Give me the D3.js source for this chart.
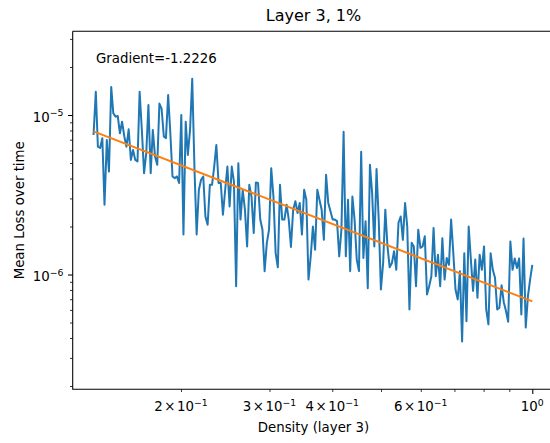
<!DOCTYPE html>
<html>
<head>
<meta charset="utf-8">
<script src="https://cdn.jsdelivr.net/npm/d3@7"></script>
<style>
body { margin: 0; background: #fff; }
text { font-family: "DejaVu Sans", sans-serif; fill: #000; }
.tick line { stroke: #000; }
</style>
</head>
<body>
<script>
// density of layer 3 after each pruning step (1% per step)
var density = [
    0.1340,0.1354,0.1367,0.1381,0.1395,0.1409,0.1424,0.1438,0.1453,0.1467,
    0.1482,0.1497,0.1512,0.1527,0.1543,0.1558,0.1574,0.1590,0.1606,0.1622,
    0.1639,0.1655,0.1672,0.1689,0.1706,0.1723,0.1741,0.1758,0.1776,0.1794,
    0.1812,0.1830,0.1849,0.1867,0.1886,0.1905,0.1924,0.1944,0.1963,0.1983,
    0.2003,0.2023,0.2044,0.2064,0.2085,0.2106,0.2128,0.2149,0.2171,0.2193,
    0.2215,0.2237,0.2260,0.2283,0.2306,0.2329,0.2352,0.2376,0.2400,0.2424,
    0.2449,0.2474,0.2499,0.2524,0.2549,0.2575,0.2601,0.2627,0.2654,0.2681,
    0.2708,0.2735,0.2763,0.2791,0.2819,0.2847,0.2876,0.2905,0.2934,0.2964,
    0.2994,0.3024,0.3055,0.3086,0.3117,0.3148,0.3180,0.3212,0.3245,0.3277,
    0.3310,0.3344,0.3378,0.3412,0.3446,0.3481,0.3516,0.3552,0.3587,0.3624,
    0.3660,0.3697,0.3735,0.3772,0.3810,0.3849,0.3888,0.3927,0.3967,0.4007,
    0.4047,0.4088,0.4129,0.4171,0.4213,0.4256,0.4299,0.4342,0.4386,0.4430,
    0.4475,0.4520,0.4566,0.4612,0.4659,0.4706,0.4753,0.4801,0.4850,0.4899,
    0.4948,0.4998,0.5049,0.5100,0.5151,0.5203,0.5256,0.5309,0.5363,0.5417,
    0.5472,0.5527,0.5583,0.5639,0.5696,0.5754,0.5812,0.5870,0.5930,0.5990,
    0.6050,0.6111,0.6173,0.6235,0.6298,0.6362,0.6426,0.6491,0.6557,0.6623,
    0.6690,0.6757,0.6826,0.6894,0.6964,0.7034,0.7106,0.7177,0.7250,0.7323,
    0.7397,0.7472,0.7547,0.7623,0.7700,0.7778,0.7857,0.7936,0.8016,0.8097,
    0.8179,0.8262,0.8345,0.8429,0.8515,0.8601,0.8687,0.8775,0.8864,0.8953,
    0.9044,0.9135,0.9227,0.9321,0.9415,0.9510,0.9606,0.9703,0.9801,0.9900,
    1.0
];

// mean loss over time at each density
var meanLoss = [
    7.50e-6,1.40e-5,6.33e-6,6.21e-6,7.16e-6,2.74e-6,6.98e-6,4.42e-6,1.50e-5,1.025e-5,
    9.77e-6,9.86e-6,7.69e-6,9.08e-6,7.33e-6,6.33e-6,8.14e-6,5.23e-6,6.04e-6,5.23e-6,
    5.11e-6,1.40e-5,8.06e-6,4.32e-6,5.76e-6,1.155e-5,4.32e-6,8.06e-6,5.49e-6,4.87e-6,
    1.18e-5,1.098e-5,7.33e-6,7.16e-6,1.334e-5,7.69e-6,4.12e-6,4.02e-6,4.12e-6,3.75e-6,
    1.00e-5,1.78e-6,9.08e-6,5.62e-6,8.06e-6,1.69e-5,4.53e-6,1.78e-6,3.40e-6,3.93e-6,
    4.12e-6,2.31e-6,2.05e-6,3.65e-6,3.65e-6,4.75e-6,6.49e-6,3.75e-6,3.75e-6,2.37e-6,
    3.40e-6,4.75e-6,2.67e-6,4.75e-6,3.84e-6,8.45e-7,4.99e-6,2.21e-6,3.40e-6,2.55e-6,
    1.50e-6,3.65e-6,3.08e-6,1.82e-6,3.78e-6,3.75e-6,2.21e-6,1.91e-6,1.05e-6,1.58e-6,
    1.91e-6,4.64e-6,3.08e-6,1.36e-6,1.11e-6,3.65e-6,2.21e-6,2.21e-6,2.74e-6,2.21e-6,
    1.49e-6,2.55e-6,2.88e-6,2.43e-6,2.81e-6,1.78e-6,3.40e-6,2.94e-6,9.30e-7,1.30e-6,
    2.00e-6,1.43e-6,3.40e-6,2.94e-6,2.55e-6,1.65e-6,4.22e-6,2.81e-6,2.49e-6,2.21e-6,
    2.21e-6,2.16e-6,1.30e-6,1.91e-6,7.86e-6,1.30e-6,2.94e-6,1.05e-6,3.08e-6,2.21e-6,
    1.24e-6,1.05e-6,5.89e-6,1.27e-6,2.16e-6,8.20e-7,4.87e-6,3.24e-6,1.50e-6,4.58e-6,
    2.21e-6,8.06e-7,1.18e-6,2.55e-6,1.50e-6,1.11e-6,1.18e-6,1.40e-6,1.07e-6,2.11e-6,
    2.31e-6,1.65e-6,2.81e-6,2.00e-6,6.04e-7,1.58e-6,1.50e-6,8.45e-7,1.91e-6,1.47e-6,
    1.50e-6,1.74e-6,7.50e-7,8.45e-7,9.75e-7,1.96e-6,9.75e-7,1.33e-6,8.45e-7,1.69e-6,
    9.30e-7,1.27e-6,1.15e-6,2.21e-6,1.36e-6,8.06e-7,6.98e-7,1.05e-6,3.80e-7,1.36e-6,
    5.10e-7,2.00e-6,1.24e-6,7.90e-7,1.24e-6,7.15e-7,1.33e-6,1.07e-6,1.50e-6,6.04e-7,
    4.87e-7,1.36e-6,1.07e-6,9.55e-7,6.04e-7,6.20e-7,8.55e-7,6.70e-7,5.90e-7,5.05e-7,
    1.61e-6,1.07e-6,1.26e-6,1.10e-6,1.26e-6,5.62e-7,1.68e-6,4.65e-7,7.30e-7,9.30e-7,
    1.15e-6
];

// fitted power law, end points
var fitDensity = [0.1340, 1.0];
var fitLoss = [7.9e-6, 6.78e-7];

var xMinorTicks = [0.2, 0.3, 0.4, 0.5, 0.6, 0.7, 0.8, 0.9];
var xMajorTicks = [1];
var xLabelTicks = [0.2, 0.3, 0.4, 0.6, 1];
var xLabelBase = ["2", "3", "4", "6", ""];
var xLabelExp = ["\u22121", "\u22121", "\u22121", "\u22121", "0"];

var yMajorTicks = [1e-6, 1e-5];
var yLabelExp = ["\u22126", "\u22125"];
var yMinorTicks = [2e-7, 3e-7, 4e-7, 5e-7, 6e-7, 7e-7, 8e-7, 9e-7,
                   2e-6, 3e-6, 4e-6, 5e-6, 6e-6, 7e-6, 8e-6, 9e-6,
                   2e-5, 3e-5];

var titleText = "Layer 3, 1%";
var gradientText = "Gradient=-1.2226";
var xLabelText = "Density (layer 3)";
var yLabelText = "Mean Loss over time";

function drawChart() {
    var width = 550, height = 443;
    var axL = 72.7, axR = 554.3, axT = 31.3, axB = 389.3;

    var svg = d3.select("body").append("svg")
        .attr("width", width).attr("height", height);

    var x = d3.scaleLog().domain([0.1218, 1.106]).range([axL, axR]);
    var y = d3.scaleLog().domain([1.907e-7, 3.348e-5]).range([axB, axT]);

    var pts = density.map(function(d, i) { return [d, meanLoss[i]]; });
    var fit = fitDensity.map(function(d, i) { return [d, fitLoss[i]]; });

    var line = d3.line()
        .x(function(d) { return x(d[0]); })
        .y(function(d) { return y(d[1]); });

    svg.append("clipPath").attr("id", "clip")
        .append("rect").attr("x", axL).attr("y", axT)
        .attr("width", axR - axL).attr("height", axB - axT);

    svg.append("path").datum(pts)
        .attr("d", line)
        .attr("clip-path", "url(#clip)")
        .attr("fill", "none")
        .attr("stroke", "#1f77b4")
        .attr("stroke-width", 2)
        .attr("stroke-linejoin", "round");

    svg.append("path").datum(fit)
        .attr("d", line)
        .attr("clip-path", "url(#clip)")
        .attr("fill", "none")
        .attr("stroke", "#ff7f0e")
        .attr("stroke-width", 2);

    //Ticks
    var major = 4.67, minor = 2.67;
    var gx1 = svg.append("g").attr("transform", "translate(0," + axB + ")")
        .call(d3.axisBottom(x).tickValues(xMajorTicks).tickSize(major).tickSizeOuter(0).tickFormat(""));
    var gx2 = svg.append("g").attr("transform", "translate(0," + axB + ")")
        .call(d3.axisBottom(x).tickValues(xMinorTicks).tickSize(minor).tickSizeOuter(0).tickFormat(""));
    var gy1 = svg.append("g").attr("transform", "translate(" + axL + ",0)")
        .call(d3.axisLeft(y).tickValues(yMajorTicks).tickSize(major).tickSizeOuter(0).tickFormat(""));
    var gy2 = svg.append("g").attr("transform", "translate(" + axL + ",0)")
        .call(d3.axisLeft(y).tickValues(yMinorTicks).tickSize(minor).tickSizeOuter(0).tickFormat(""));
    svg.selectAll(".domain").remove();
    gx1.selectAll("line").attr("stroke-width", 1.07);
    gy1.selectAll("line").attr("stroke-width", 1.07);
    gx2.selectAll("line").attr("stroke-width", 0.8);
    gy2.selectAll("line").attr("stroke-width", 0.8);

    //Spines
    svg.append("path")
        .attr("d", "M" + axL + "," + axT + "V" + axB + "H" + axR + "M" + axL + "," + axT + "H" + axR)
        .attr("fill", "none").attr("stroke", "#000").attr("stroke-width", 1.07);

    //Tick labels
    xLabelTicks.forEach(function(v, i) {
        var t = svg.append("text")
            .attr("x", x(v)).attr("y", 411)
            .attr("text-anchor", "middle")
            .style("font-size", "13.33px");
        if (xLabelBase[i]) {
            t.append("tspan").text(xLabelBase[i]);
            t.append("tspan").attr("dx", 1.5).text("\u00d7");
            t.append("tspan").attr("dx", 1.5).text("10");
        } else {
            t.append("tspan").text("10");
        }
        t.append("tspan").attr("dy", -5.5).style("font-size", "9.3px").text(xLabelExp[i]);
    });

    yMajorTicks.forEach(function(v, i) {
        var t = svg.append("text")
            .attr("x", 63.4).attr("y", y(v) + 6.5)
            .attr("text-anchor", "end")
            .style("font-size", "13.33px");
        t.append("tspan").text("10");
        t.append("tspan").attr("dy", -5.5).style("font-size", "9.3px").text(yLabelExp[i]);
    });

    //Titles and labels
    svg.append("text")
        .attr("x", (axL + axR) / 2).attr("y", 20.5)
        .attr("text-anchor", "middle")
        .style("font-size", "16px")
        .text(titleText);

    svg.append("text")
        .attr("x", 96).attr("y", 63.3)
        .style("font-size", "13.33px")
        .text(gradientText);

    svg.append("text")
        .attr("x", (axL + axR) / 2).attr("y", 432)
        .attr("text-anchor", "middle")
        .style("font-size", "13.33px")
        .text(xLabelText);

    svg.append("text")
        .attr("transform", "translate(23.5," + (axT + axB) / 2 + ")rotate(-90)")
        .attr("text-anchor", "middle")
        .style("font-size", "13.33px")
        .text(yLabelText);
}

drawChart();
</script>
</body>
</html>
